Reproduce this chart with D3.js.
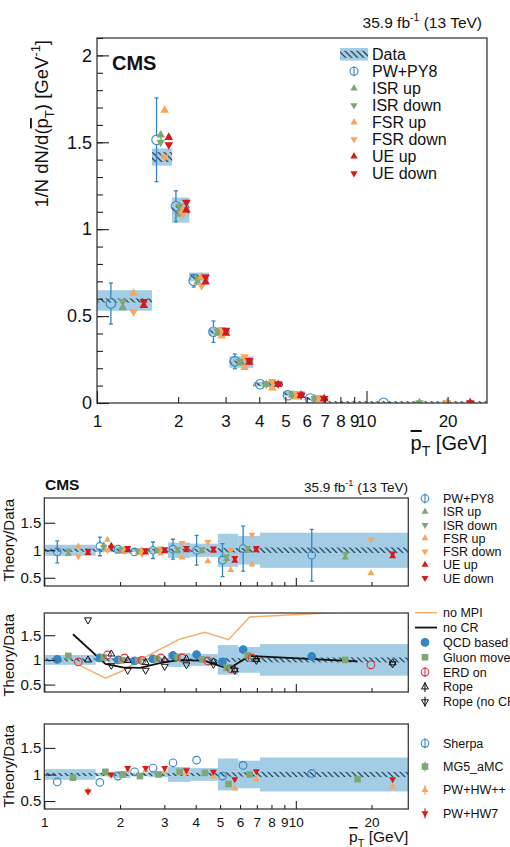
<!DOCTYPE html>
<html>
<head>
<meta charset="utf-8">
<script src="https://cdn.jsdelivr.net/npm/d3@7"></script>
<style>
  body { margin: 0; background: #fff; }
  svg { font-family: "Liberation Sans", Arial, sans-serif; }
</style>
</head>
<body>
<div class="container"></div>
<script>
// ---- data ----
const binEdges = [1, 1.6, 1.9, 2.2, 2.6, 3.1, 3.8, 4.9, 5.9, 7.2, 28]
const dataValues = [0.59, 1.415, 1.11, 0.725, 0.41, 0.235, 0.108, 0.054, 0.025, 0.002]
const dataTotalUnc = [0.10, 0.035, 0.065, 0.035, 0.05, 0.14, 0.12, 0.30, 0.26, 0.32]
const dataStatUnc = [0.02, 0.02, 0.02, 0.02, 0.02, 0.025, 0.03, 0.04, 0.04, 0.05]

// theory / data, panel 1
const pwpy8 = [0.97, 1.07, 1.02, 0.97, 1.0, 1.02, 1.0, 0.82, 1.03, 0.91]
const pwpy8Err = [0.2, 0.17, 0.08, 0.05, 0.15, 0.18, 0.27, 0.3, 0.41, 0.47]
const isrUp = [0.93, 1.09, 0.98, 0.96, 0.98, 0.98, 0.98, 0.84, 0.99, 0.87]
const isrDown = [0.99, 1.06, 1.02, 0.99, 1.01, 1.02, 1.02, 0.89, 1.04, 0.93]
const fsrUp = [1.07, 1.19, 1.0, 1.0, 0.94, 0.87, 0.8, 0.64, 0.74, 0.58]
const fsrDown = [0.89, 1.0, 0.98, 0.93, 1.03, 1.13, 1.15, 1.0, 1.28, 1.2]
const ueUp = [0.95, 1.08, 1.0, 0.96, 0.98, 1.0, 0.99, 0.81, 1.0, 0.89]
const ueDown = [0.99, 1.05, 1.04, 1.0, 1.02, 1.04, 1.03, 0.86, 1.04, 0.94]

// panel 2
const qcdBased = [1.01, 1.04, 1.0, 0.98, 1.02, 1.09, 1.11, 0.96, 1.21, 1.07]
const gluonMove = [1.08, 1.05, 0.99, 0.99, 1.02, 1.05, 1.01, 0.84, 1.09, 1.0]
const erdOn = [0.96, 1.1, 1.04, 0.99, 1.04, 1.04, 0.98, 0.82, 1.04, 0.9]
const rope = [1.0, 1.12, 0.99, 0.95, 1.0, 1.02, 0.96, 0.8, 1.01, 0.94]
const ropeNoCR = [1.81, 0.89, 0.79, 0.79, 0.87, 0.9, 0.91, 0.79, 0.99, 0.92]
const noMPI = [0.96, 0.63, 0.78, 1.0, 1.2, 1.42, 1.56, 1.41, 1.87, 1.98]
const noCR = [1.52, 0.92, 0.85, 0.84, 0.93, 1.0, 0.98, 0.82, 1.08, 0.97]

// panel 3
const sherpa = [0.86, 0.85, 0.97, 1.05, 1.12, 1.22, 1.27, 0.97, 1.17, 1.02]
const sherpaErr = [0.01, 0.01, 0.01, 0.01, 0.01, 0.02, 0.02, 0.05, 0.05, 0.06]
const mg5amc = [0.94, 1.05, 1.0, 0.97, 1.0, 1.05, 1.03, 0.82, 1.0, 0.91]
const pwHwpp = [0.7, 0.98, 1.08, 1.08, 1.05, 1.03, 0.96, 0.74, 0.91, 0.77]
const pwHw7 = [0.68, 1.0, 1.12, 1.12, 1.12, 1.08, 1.05, 0.91, 1.06, 0.91]

const xMinorTicks = [2, 3, 4, 5, 6, 7, 8, 9, 20]
const xMajorTicks = [1, 10]
const yTicksTop = [0, 0.5, 1, 1.5, 2]
const yTicksRatio = [0.5, 1, 1.5]

// ---- colours ----
const cBand = "#a3cde4", cHatch = "#2e4b5f"
const cBlue = "#3585c4", cGreen = "#7fa776", cOrange = "#f8a65a", cRed = "#d7191c"

const W = 510, H = 847
const svg = d3.select(".container").append("svg").attr("width", W).attr("height", H)

const defs = svg.append("defs")
const pat = defs.append("pattern").attr("id", "hatch").attr("patternUnits", "userSpaceOnUse")
  .attr("width", 6).attr("height", 6)
pat.append("path").attr("d", "M-1,-1 L7,7 M-1,5 L1,7 M5,-1 L7,1")
  .attr("stroke", cHatch).attr("stroke-width", 1.3)

const nBins = dataValues.length
const binAt = (i, f) => binEdges[i] + f * (binEdges[i + 1] - binEdges[i])

// ---- helpers ----
function marker(g, kind, x, y, color, s) {
  if (kind === "circle" || kind === "circleFill") {
    g.append("circle").attr("cx", x).attr("cy", y).attr("r", 3.8 * s)
      .attr("fill", kind === "circle" ? "none" : color)
      .attr("stroke", color).attr("stroke-width", 1.1)
  } else if (kind === "square") {
    const a = 6.6 * s
    g.append("rect").attr("x", x - a / 2).attr("y", y - a / 2).attr("width", a).attr("height", a)
      .attr("fill", color)
  } else {
    const up = kind.indexOf("Up") > 0
    const open = kind.indexOf("Open") > 0
    g.append("path").attr("d", d3.symbol(d3.symbolTriangle, 21 * s * s)())
      .attr("transform", `translate(${x},${y}) rotate(${up ? 0 : 180})`)
      .attr("fill", open ? "none" : color)
      .attr("stroke", open ? color : "none").attr("stroke-width", 1)
  }
}

// error bar drawn outside the marker, with short caps
function errorBar(g, x, yTop, yBot, yc, gap, color) {
  if (yc - gap > yTop + 0.5) {
    g.append("line").attr("x1", x).attr("x2", x).attr("y1", yTop).attr("y2", yc - gap)
    g.append("line").attr("x1", x - 2).attr("x2", x + 2).attr("y1", yTop).attr("y2", yTop)
  }
  if (yc + gap < yBot - 0.5) {
    g.append("line").attr("x1", x).attr("x2", x).attr("y1", yc + gap).attr("y2", yBot)
    g.append("line").attr("x1", x - 2).attr("x2", x + 2).attr("y1", yBot).attr("y2", yBot)
  }
  g.selectAll("line").attr("stroke", color).attr("stroke-width", 1.3)
}

function supText(g, x, y, size, anchor, before, sup, after) {
  const t = g.append("text").attr("x", x).attr("y", y).attr("font-size", size)
    .attr("text-anchor", anchor).attr("fill", "#111")
  t.append("tspan").text(before)
  t.append("tspan").attr("dy", -size * 0.42).attr("font-size", size * 0.68).text(sup)
  t.append("tspan").attr("dy", size * 0.42).text(after)
  return t
}

function ptTitle(g, x, y, size) {
  const t = g.append("text").attr("x", x).attr("y", y).attr("font-size", size)
    .attr("text-anchor", "end").attr("fill", "#111")
  t.append("tspan").style("text-decoration", "overline").text("p")
  t.append("tspan").attr("dy", size * 0.3).attr("font-size", size * 0.7).text("T")
  t.append("tspan").attr("dy", -size * 0.3).text(" [GeV]")
}

function drawDataBand(g, xs, ys, centers) {
  d3.range(nBins).forEach(i => {
    const c = centers[i]
    const x0 = xs(binEdges[i]), x1 = xs(binEdges[i + 1])
    g.append("rect").attr("x", x0).attr("width", x1 - x0)
      .attr("y", ys(c * (1 + dataTotalUnc[i]))).attr("height", ys(c * (1 - dataTotalUnc[i])) - ys(c * (1 + dataTotalUnc[i])))
      .attr("fill", cBand)
  })
  d3.range(nBins).forEach(i => {
    const c = centers[i]
    const x0 = xs(binEdges[i]), x1 = xs(binEdges[i + 1])
    const yt = ys(c * (1 + dataStatUnc[i])), yb = ys(c * (1 - dataStatUnc[i]))
    const hgt = Math.max(yb - yt, 3)
    g.append("rect").attr("x", x0).attr("width", x1 - x0)
      .attr("y", (yt + yb) / 2 - hgt / 2).attr("height", hgt)
      .attr("fill", "url(#hatch)")
  })
}

function drawFrame(g, x0, x1, y0, y1) {
  g.append("rect").attr("x", x0).attr("y", y0).attr("width", x1 - x0).attr("height", y1 - y0)
    .attr("fill", "none").attr("stroke", "#3a3a3a").attr("stroke-width", 1.3)
}

function styleAxis(a, size) {
  a.select(".domain").remove()
  a.attr("font-family", "Liberation Sans, Arial, sans-serif").attr("font-size", size)
  a.selectAll("line").attr("stroke", "#222").attr("stroke-width", 1.1)
  a.selectAll("text").attr("fill", "#111")
}

function clipFor(id, x0, x1, y0, y1) {
  defs.append("clipPath").attr("id", id).append("rect")
    .attr("x", x0).attr("y", y0).attr("width", x1 - x0).attr("height", y1 - y0)
  return "url(#" + id + ")"
}

// ================= MAIN PANEL =================
const mainBox = { l: 97, r: 487, t: 38, b: 403 }
const xMain = d3.scaleLog().domain([1, 28]).range([mainBox.l, mainBox.r])
const yMain = d3.scaleLinear().domain([0, 2.1]).range([mainBox.b, mainBox.t])

const gMain = svg.append("g")
const gMainPlot = gMain.append("g").attr("clip-path", clipFor("cMain", mainBox.l, mainBox.r, mainBox.t, mainBox.b))
drawDataBand(gMainPlot, xMain, yMain, dataValues)

const varSeries = [
  { v: isrUp, kind: "triUp", color: cGreen, f: 0.41 },
  { v: isrDown, kind: "triDown", color: cGreen, f: 0.41 },
  { v: fsrUp, kind: "triUp", color: cOrange, f: 0.61 },
  { v: fsrDown, kind: "triDown", color: cOrange, f: 0.61 },
  { v: ueUp, kind: "triUp", color: cRed, f: 0.82 },
  { v: ueDown, kind: "triDown", color: cRed, f: 0.82 }
]
d3.range(nBins).forEach(i => {
  const x = xMain(binAt(i, 0.21))
  const val = pwpy8[i] * dataValues[i]
  const e = pwpy8Err[i] * dataValues[i]
  errorBar(gMainPlot.append("g"), x, yMain(val + e), yMain(val - e), yMain(val), 4.7, cBlue)
  marker(gMainPlot, "circle", x, yMain(val), cBlue, 1.25)
})
varSeries.forEach(s => d3.range(nBins).forEach(i => {
  marker(gMainPlot, s.kind, xMain(binAt(i, s.f)), yMain(s.v[i] * dataValues[i]), s.color, 1.25)
}))
drawFrame(gMain, mainBox.l, mainBox.r, mainBox.t, mainBox.b)

const yMinorMain = d3.range(0, 2.11, 0.1).map(d => +d.toFixed(1))
styleAxis(gMain.append("g").attr("transform", `translate(${mainBox.l},0)`)
  .call(d3.axisLeft(yMain).tickValues(yMinorMain).tickSize(-6).tickFormat("")), 18)
styleAxis(gMain.append("g").attr("transform", `translate(${mainBox.l},0)`)
  .call(d3.axisLeft(yMain).tickValues(yTicksTop).tickSize(-12).tickPadding(5).tickFormat(d => d)), 18)
styleAxis(gMain.append("g").attr("transform", `translate(0,${mainBox.b})`)
  .call(d3.axisBottom(xMain).tickValues(xMinorTicks).tickSize(-6).tickPadding(12).tickFormat(d => d)), 17)
styleAxis(gMain.append("g").attr("transform", `translate(0,${mainBox.b})`)
  .call(d3.axisBottom(xMain).tickValues(xMajorTicks).tickSize(-12).tickPadding(12).tickFormat(d => d)), 17)

ptTitle(gMain, mainBox.r, 450, 20)
{
  const t = gMain.append("text").attr("transform", `translate(48,${mainBox.t + 2}) rotate(-90)`)
    .attr("text-anchor", "end").attr("font-size", 18.5).attr("fill", "#111")
  t.append("tspan").text("1/N dN/d(")
  t.append("tspan").style("text-decoration", "overline").text("p")
  t.append("tspan").attr("dy", 6).attr("font-size", 13).text("T")
  t.append("tspan").attr("dy", -6).text(") [GeV")
  t.append("tspan").attr("dy", -8).attr("font-size", 13).text("-1")
  t.append("tspan").attr("dy", 8).text("]")
}
gMain.append("text").attr("x", 112).attr("y", 70).attr("font-size", 20).attr("font-weight", "bold")
  .attr("fill", "#111").text("CMS")
supText(gMain, 482, 28, 15.5, "end", "35.9 fb", "-1", " (13 TeV)")

// main legend
{
  const lx = 354, tx = 372, y0 = 54.3, dy = 17
  gMain.append("rect").attr("x", 340).attr("y", y0 - 6.3).attr("width", 28).attr("height", 12.6).attr("fill", cBand)
  gMain.append("rect").attr("x", 340).attr("y", y0 - 3.5).attr("width", 28).attr("height", 7).attr("fill", "url(#hatch)")
  const items = [
    { label: "PW+PY8", kind: "circle", color: cBlue, bar: true },
    { label: "ISR up", kind: "triUp", color: cGreen },
    { label: "ISR down", kind: "triDown", color: cGreen },
    { label: "FSR up", kind: "triUp", color: cOrange },
    { label: "FSR down", kind: "triDown", color: cOrange },
    { label: "UE up", kind: "triUp", color: cRed },
    { label: "UE down", kind: "triDown", color: cRed }
  ]
  const labels = ["Data"].concat(items.map(d => d.label))
  labels.forEach((l, i) => gMain.append("text").attr("x", tx).attr("y", y0 + i * dy).attr("dy", "0.36em")
    .attr("font-size", 16).attr("fill", "#111").text(l))
  items.forEach((d, i) => {
    const y = y0 + (i + 1) * dy
    if (d.bar) gMain.append("line").attr("x1", lx).attr("x2", lx).attr("y1", y - 5).attr("y2", y + 5)
      .attr("stroke", d.color).attr("stroke-width", 1.1)
    marker(gMain, d.kind, lx, y, d.color, 1.05)
  })
}

// ================= RATIO PANELS =================
const rl = 44.3, rr = 408.3
const xRatio = d3.scaleLog().domain([1, 28]).range([rl, rr])
const ones = dataValues.map(() => 1)

function ratioPanel(id, t, b, withLabels) {
  const y = d3.scaleLinear().domain([0.35, 1.95]).range([b, t])
  const g = svg.append("g")
  const plot = g.append("g").attr("clip-path", clipFor(id, rl, rr, t, b))
  drawDataBand(plot, xRatio, y, ones)
  const axes = () => {
    drawFrame(g, rl, rr, t, b)
    styleAxis(g.append("g").attr("transform", `translate(${rl},0)`)
      .call(d3.axisLeft(y).tickValues(yTicksRatio).tickSize(-11).tickPadding(3).tickFormat(d => d)), 15)
    styleAxis(g.append("g").attr("transform", `translate(0,${b})`)
      .call(d3.axisBottom(xRatio).tickValues(xMinorTicks).tickSize(-4).tickPadding(8)
        .tickFormat(d => withLabels ? d : "")), 13.5)
    styleAxis(g.append("g").attr("transform", `translate(0,${b})`)
      .call(d3.axisBottom(xRatio).tickValues(xMajorTicks).tickSize(-8).tickPadding(8)
        .tickFormat(d => withLabels ? d : "")), 13.5)
    g.append("text").attr("transform", `translate(14,${t + 1}) rotate(-90)`).attr("text-anchor", "end")
      .attr("font-size", 15).attr("fill", "#111").text("Theory/Data")
  }
  return { g, plot, y, axes }
}

function drawSeries(p, s) {
  d3.range(nBins).forEach(i => {
    const x = xRatio(binAt(i, s.f))
    const yc = p.y(s.v[i])
    if (s.err) errorBar(p.plot.append("g"), x, p.y(s.v[i] + s.err[i]), p.y(s.v[i] - s.err[i]), yc, 4, s.color)
    marker(p.plot, s.kind, x, yc, s.color, 1)
  })
}

function legend(g, y0, dy, items) {
  items.forEach((d, i) => {
    const y = y0 + i * dy
    g.append("text").attr("x", 443).attr("y", y).attr("dy", "0.36em").attr("font-size", 12.5)
      .attr("fill", "#111").text(d.label)
    if (d.line) {
      g.append("line").attr("x1", 415).attr("x2", 437).attr("y1", y).attr("y2", y)
        .attr("stroke", d.color).attr("stroke-width", d.w)
      return
    }
    if (d.bar) g.append("line").attr("x1", 425).attr("x2", 425).attr("y1", y - 5).attr("y2", y + 5)
      .attr("stroke", d.color).attr("stroke-width", 1.1)
    marker(g, d.kind, 425, y, d.color, 1)
  })
}

// ---- panel 1 ----
const p1 = ratioPanel("cR1", 498, 586, false)
drawSeries(p1, { v: pwpy8, err: pwpy8Err, kind: "circle", color: cBlue, f: 0.21 })
varSeries.forEach(s => drawSeries(p1, s))
p1.axes()
p1.g.append("text").attr("x", 45).attr("y", 490).attr("font-size", 15.5).attr("font-weight", "bold")
  .attr("fill", "#111").text("CMS")
supText(p1.g, 408, 492, 13.5, "end", "35.9 fb", "-1", " (13 TeV)")
legend(p1.g, 498.5, 13.25, [
  { label: "PW+PY8", kind: "circle", color: cBlue, bar: true },
  { label: "ISR up", kind: "triUp", color: cGreen },
  { label: "ISR down", kind: "triDown", color: cGreen },
  { label: "FSR up", kind: "triUp", color: cOrange },
  { label: "FSR down", kind: "triDown", color: cOrange },
  { label: "UE up", kind: "triUp", color: cRed },
  { label: "UE down", kind: "triDown", color: cRed }
])

// ---- panel 2 ----
const p2 = ratioPanel("cR2", 613, 692, false)
const lineGen = d3.line().x((d, i) => xRatio(binAt(i, 0.5))).y(d => p2.y(d))
p2.plot.append("path").attr("d", lineGen(noMPI)).attr("fill", "none").attr("stroke", "#f5b06e").attr("stroke-width", 1.5)
p2.plot.append("path").attr("d", lineGen(noCR)).attr("fill", "none").attr("stroke", "#111").attr("stroke-width", 1.8)
drawSeries(p2, { v: qcdBased, kind: "circleFill", color: cBlue, f: 0.21 })
drawSeries(p2, { v: gluonMove, kind: "square", color: cGreen, f: 0.41 })
drawSeries(p2, { v: erdOn, kind: "circle", color: "#e0323c", f: 0.61 })
drawSeries(p2, { v: rope, kind: "triUpOpen", color: "#111", f: 0.82 })
drawSeries(p2, { v: ropeNoCR, kind: "triDownOpen", color: "#111", f: 0.82 })
p2.axes()
legend(p2.g, 612.7, 14.85, [
  { label: "no MPI", line: true, color: "#f5b06e", w: 1.5 },
  { label: "no CR", line: true, color: "#111", w: 1.8 },
  { label: "QCD based", kind: "circleFill", color: cBlue },
  { label: "Gluon move", kind: "square", color: cGreen },
  { label: "ERD on", kind: "circle", color: "#e0323c", bar: true },
  { label: "Rope", kind: "triUpOpen", color: "#111", bar: true },
  { label: "Rope (no CR)", kind: "triDownOpen", color: "#111", bar: true }
])

// ---- panel 3 ----
const p3 = ratioPanel("cR3", 724, 809, true)
drawSeries(p3, { v: sherpa, err: sherpaErr, kind: "circle", color: cBlue, f: 0.21 })
drawSeries(p3, { v: mg5amc, kind: "square", color: cGreen, f: 0.5 })
drawSeries(p3, { v: pwHwpp, kind: "triUp", color: cOrange, f: 0.82 })
drawSeries(p3, { v: pwHw7, kind: "triDown", color: cRed, f: 0.82 })
p3.axes()
ptTitle(p3.g, rr, 842, 15.5)
legend(p3.g, 743.3, 23.3, [
  { label: "Sherpa", kind: "circle", color: cBlue, bar: true },
  { label: "MG5_aMC", kind: "square", color: cGreen, bar: true },
  { label: "PW+HW++", kind: "triUp", color: cOrange, bar: true },
  { label: "PW+HW7", kind: "triDown", color: cRed, bar: true }
])
</script>
</body>
</html>
